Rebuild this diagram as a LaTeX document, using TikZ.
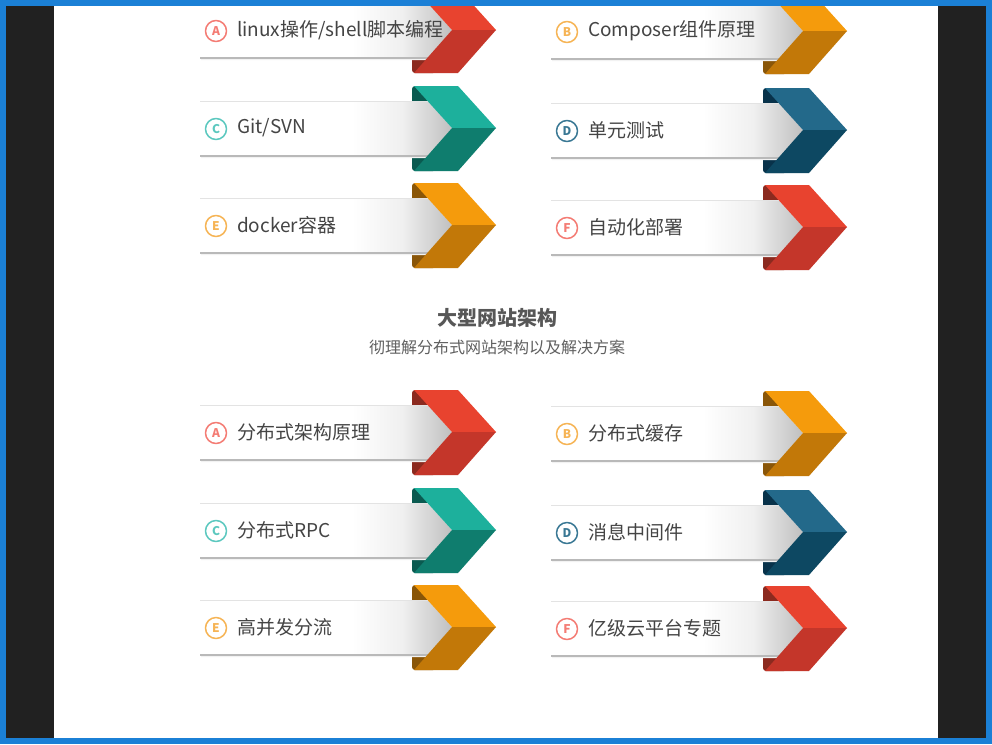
\documentclass[tikz,border=0pt]{standalone}
\usepackage{fontspec}
\setmainfont{Noto Sans CJK SC}
\definecolor{frameblue}{HTML}{1B80D6}
\definecolor{sidegray}{HTML}{212121}
\definecolor{txtgray}{HTML}{444444}
\definecolor{upred}{HTML}{E8432F}\definecolor{dnred}{HTML}{C4362A}
\definecolor{bkred}{HTML}{8B2A1F}\definecolor{ltred}{HTML}{F47C74}
\definecolor{uporange}{HTML}{F59B0C}\definecolor{dnorange}{HTML}{C27808}
\definecolor{bkorange}{HTML}{8A5608}\definecolor{ltorange}{HTML}{F6B455}
\definecolor{upteal}{HTML}{1DB09C}\definecolor{dnteal}{HTML}{0F7D6E}
\definecolor{bkteal}{HTML}{0A5A50}\definecolor{ltteal}{HTML}{5CC8BF}
\definecolor{upblue}{HTML}{23698A}\definecolor{dnblue}{HTML}{0D4862}
\definecolor{bkblue}{HTML}{08324A}\definecolor{ltblue}{HTML}{3A7894}
\tikzset{
lettercirc/.style={circle,draw=lt#1,line width=1.5pt,minimum size=21pt,inner sep=0pt,
  text=lt#1,font=\fontsize{12}{12}\selectfont\bfseries},
itemtext/.style={anchor=west,inner sep=0pt,text=txtgray,font=\fontsize{19}{19}\selectfont},
}
\begin{document}
\begin{tikzpicture}[x=1pt,y=-1pt,line join=round]
\useasboundingbox (0,0) rectangle (992,744);
\fill[frameblue] (0,0) rectangle (992,744);
\fill[sidegray] (6,6) rectangle (986,738);
\fill[white] (54,6) rectangle (938,738);
\begin{scope}
\clip (54,6) rectangle (938,738);
\foreach \X/\Y/\col/\L/\txt [count=\n] in {
412/30/red/A/{linux操作/shell脚本编程},
763/31/orange/B/Composer组件原理,
412/128/teal/C/{Git/SVN},
763/130/blue/D/单元测试,
412/225/orange/E/docker容器,
763/227/red/F/自动化部署,
412/432/red/A/分布式架构原理,
763/433/orange/B/分布式缓存,
412/530/teal/C/分布式RPC,
763/532/blue/D/消息中间件,
412/627/orange/E/高并发分流,
763/628/red/F/亿级云平台专题}
{
% back of the fold
\fill[bk\col,rounded corners=3pt] (\X,\Y-42) rectangle (\X+24,\Y+43);
% white strip
\fill[gray!10] (\X-211,\Y-26) -- (\X+18,\Y-26) -- (\X+42,\Y+1) -- (\X+18,\Y+30) -- (\X-211,\Y+30) -- cycle;
\fill[white] (\X-212,\Y-27) -- (\X+16,\Y-27) -- (\X+40,\Y) -- (\X+16,\Y+28) -- (\X-212,\Y+28) -- cycle;
\shade[left color=white,right color=gray!50,middle color=gray!12] (\X-60,\Y-27) -- (\X+16,\Y-27) -- (\X+40,\Y) -- (\X+16,\Y+28) -- (\X-60,\Y+28) -- cycle;
\draw[gray!22,line width=1pt] (\X-212,\Y-27) -- (\X+16,\Y-27);
\draw[gray!55,line width=1.5pt] (\X-212,\Y+28) -- (\X+16,\Y+28);
% front faces
\fill[up\col] (\X+2,\Y-42) -- (\X+46,\Y-42) -- (\X+84,\Y) -- (\X+40,\Y) -- cycle;
\fill[dn\col] (\X+40,\Y) -- (\X+84,\Y) -- (\X+46,\Y+43) -- (\X+2,\Y+43) -- cycle;
\node[lettercirc=\col] (circ\n) at (\X-196,\Y+1) {\L};
\node[itemtext] (item\n) at (\X-175,\Y) {\txt};
}
\end{scope}
\node[text=txtgray!90,font=\fontsize{20}{20}\selectfont\bfseries] (title) at (497,318) {大型网站架构};
\node[text=gray!75!black,font=\fontsize{16}{16}\selectfont] (subtitle) at (497,347) {彻理解分布式网站架构以及解决方案};
\end{tikzpicture}
\end{document}
